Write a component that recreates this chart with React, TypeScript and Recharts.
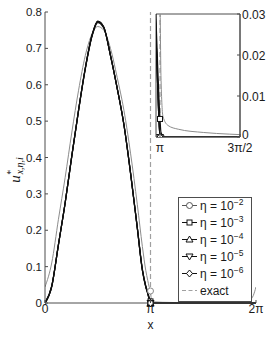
import React from 'react';
import { LineChart, Line, XAxis, YAxis, ReferenceLine, ReferenceArea } from 'recharts';

const PI = Math.PI;

// sample positions along x (rad)
const xs = [0, 0.2, 0.4, 0.6, 0.8, 1.0, 1.2, 1.4, 1.571, 1.75, 1.95, 2.15, 2.35, 2.55, 2.75, 2.9, 3.0, 3.06, 3.1, PI, 3.16, 3.2, 3.3, 3.5, 4.0, 4.5, 5.0, 5.5, 5.9, 6.1, 6.2, 2 * PI];

// eta = 1e-2 (grey, smeared)
const eta2 = [0.044, 0.11, 0.23, 0.345, 0.47, 0.585, 0.68, 0.74, 0.76, 0.75, 0.7, 0.62, 0.53, 0.41, 0.27, 0.155, 0.09, 0.062, 0.045, 0.033, 0.015, 0.005, 0.0028, 0.0019, 0.0011, 0.0007, 0.0005, 0.0006, 0.002, 0.008, 0.02, 0.044];
const eta3 = [0.001, 0.047, 0.161, 0.276, 0.405, 0.529, 0.643, 0.733, 0.771, 0.756, 0.681, 0.591, 0.491, 0.357, 0.207, 0.093, 0.048, 0.03, 0.016, 0.0044, 0.0012, 0.0003, 0, 0, 0, 0, 0, 0, 0, 0, 0, 0.001];
const eta4 = [0, 0.045, 0.16, 0.275, 0.405, 0.53, 0.645, 0.735, 0.773, 0.758, 0.68, 0.59, 0.49, 0.355, 0.205, 0.09, 0.045, 0.026, 0.011, 0, 0, 0, 0, 0, 0, 0, 0, 0, 0, 0, 0, 0];
const eta5 = [0, 0.045, 0.16, 0.275, 0.406, 0.531, 0.646, 0.736, 0.774, 0.758, 0.68, 0.59, 0.49, 0.355, 0.205, 0.09, 0.045, 0.026, 0.011, 0, 0, 0, 0, 0, 0, 0, 0, 0, 0, 0, 0, 0];
const eta6 = [0, 0.045, 0.16, 0.275, 0.406, 0.531, 0.646, 0.736, 0.775, 0.759, 0.681, 0.59, 0.49, 0.355, 0.205, 0.09, 0.045, 0.026, 0.011, 0, 0, 0, 0, 0, 0, 0, 0, 0, 0, 0, 0, 0];

const seriesKeys = ['eta2', 'eta3', 'eta4', 'eta5', 'eta6'];
const legendExponents = ['\u22122', '\u22123', '\u22124', '\u22125', '\u22126'];

const mainXTicks = [0, PI, 2 * PI];
const mainXTickLabels = ['0', '\u03c0', '2\u03c0'];
const mainYTicks = [0, 0.1, 0.2, 0.3, 0.4, 0.5, 0.6, 0.7, 0.8];
const insetXTicks = [PI, 1.5 * PI];
const insetXTickLabels = ['\u03c0', '3\u03c0/2'];
const insetYTicks = [0, 0.01, 0.02, 0.03];

const rows = xs.map((x, i) => ({ x, eta2: eta2[i], eta3: eta3[i], eta4: eta4[i], eta5: eta5[i], eta6: eta6[i] }));

const AXIS = '#4d4d4d';
const TXT = '#1a1a1a';
const FONT = '"Liberation Sans", Arial, Helvetica, sans-serif';
const EXACT = '#a0a0a0';

const styles: Record<string, { color: string; legend: string; marker: string; width: number }> = {
  eta2: { color: '#8c8c8c', legend: '#555', marker: 'circle', width: 1 },
  eta3: { color: '#111', legend: '#111', marker: 'square', width: 1.2 },
  eta4: { color: '#111', legend: '#111', marker: 'up', width: 1.2 },
  eta5: { color: '#111', legend: '#111', marker: 'down', width: 1.2 },
  eta6: { color: '#111', legend: '#111', marker: 'diamond', width: 1.2 },
};

function Marker({ kind, cx, cy, color }: { kind: string; cx: number; cy: number; color: string }) {
  const common = { fill: 'white', stroke: color, strokeWidth: 1 };
  if (kind === 'circle') return <circle cx={cx} cy={cy} r={3} {...common} />;
  if (kind === 'square') return <rect x={cx - 2.5} y={cy - 2.5} width={5} height={5} {...common} />;
  if (kind === 'up') return <polygon points={`${cx},${cy - 3.5} ${cx - 3.5},${cy + 2.5} ${cx + 3.5},${cy + 2.5}`} {...common} />;
  if (kind === 'down') return <polygon points={`${cx},${cy + 3.5} ${cx - 3.5},${cy - 2.5} ${cx + 3.5},${cy - 2.5}`} {...common} />;
  return <polygon points={`${cx},${cy - 3.5} ${cx + 3},${cy} ${cx},${cy + 3.5} ${cx - 3},${cy}`} {...common} />;
}

// markers only at x = pi
const dotFor = (key: string) => (p: any) => {
  const s = styles[key];
  if (Math.abs(p.payload.x - PI) > 1e-6 || p.cy == null) return <g key={`n${key}${p.index}`} />;
  return <Marker key={`m${key}${p.index}`} kind={s.marker} cx={p.cx} cy={p.cy} color={s.color} />;
};

const labelFor = (labels: string[], ticks: number[], v: number) => {
  let best = 0;
  ticks.forEach((t, i) => {
    if (Math.abs(t - v) < Math.abs(ticks[best] - v)) best = i;
  });
  return labels[best];
};

const LeftTick = (p: any) => (
  <g>
    <line x1={p.x} x2={p.x + 3} y1={p.y} y2={p.y} stroke={AXIS} />
    <text x={p.x - 3} y={p.y} dy={4} textAnchor="end" fontSize={11.5} fontFamily={FONT} fill={TXT}>
      {String(p.payload.value)}
    </text>
  </g>
);

const BottomTick = (labels: string[], ticks: number[], dy: number) => (p: any) => (
  <g>
    <line x1={p.x} x2={p.x} y1={p.y} y2={p.y - 3} stroke={AXIS} />
    <text x={p.x} y={p.y + dy} textAnchor="middle" fontSize={12} fontFamily={FONT} fill={TXT}>
      {labelFor(labels, ticks, Number(p.payload.value))}
    </text>
  </g>
);

const RightTick = (p: any) => (
  <g>
    <line x1={p.x - 3} x2={p.x} y1={p.y} y2={p.y} stroke={AXIS} />
    <text x={p.x + 2} y={p.y} dy={p.payload.value === 0 ? 2 : 5} textAnchor="start" fontSize={12} fontFamily={FONT} fill={TXT}>
      {String(p.payload.value)}
    </text>
  </g>
);

export default function App() {
  const lines = seriesKeys.map((k) => (
    <Line
      key={k}
      dataKey={k}
      type="monotone"
      stroke={styles[k].color}
      strokeWidth={styles[k].width}
      dot={dotFor(k)}
      activeDot={false}
      isAnimationActive={false}
    />
  ));

  return (
    <div style={{ position: 'absolute', left: 0, top: 0, width: 266, height: 341, background: 'white' }}>
      <LineChart width={266} height={341} data={rows} margin={{ top: 12, right: 10, left: 5, bottom: 8 }}>
        <XAxis
          type="number"
          dataKey="x"
          domain={[0, 2 * PI]}
          ticks={mainXTicks}
          interval={0}
          allowDataOverflow
          stroke={AXIS}
          tickSize={0}
          tickMargin={0}
          tickLine={false}
          height={30}
          tick={BottomTick(mainXTickLabels, mainXTicks, 10)}
          label={{ value: 'x', position: 'insideBottom', offset: 4, fontSize: 12, fontFamily: FONT, fill: TXT }}
        />
        <YAxis
          type="number"
          domain={[0, 0.8]}
          ticks={mainYTicks}
          interval={0}
          width={40}
          stroke={AXIS}
          tickSize={0}
          tickMargin={0}
          tickLine={false}
          tick={LeftTick}
        />
        <ReferenceLine x={PI} stroke={EXACT} strokeDasharray="5 3" strokeWidth={1.2} />
        {lines}
      </LineChart>

      <div style={{ position: 'absolute', left: 150, top: 0 }}>
        <LineChart width={116} height={160} data={rows} margin={{ top: 14, right: 0, left: 6, bottom: 3 }}>
          <XAxis
            type="number"
            dataKey="x"
            domain={[3.063, 1.5 * PI]}
            ticks={insetXTicks}
            interval={0}
            allowDataOverflow
            stroke={AXIS}
            tickSize={0}
            tickMargin={0}
            tickLine={false}
            height={20}
            tick={BottomTick(insetXTickLabels, insetXTicks, 15)}
          />
          <YAxis
            type="number"
            orientation="right"
            domain={[0, 0.03]}
            ticks={insetYTicks}
            interval={0}
            allowDataOverflow
            width={26}
            stroke={AXIS}
            tickSize={0}
            tickMargin={0}
            tickLine={false}
            tick={RightTick}
          />
          <ReferenceArea x1={3.063} x2={1.5 * PI} y1={0} y2={0.03} fill="white" fillOpacity={0} stroke={AXIS} />
          <ReferenceLine x={PI} stroke={EXACT} strokeDasharray="5 3" strokeWidth={1.2} />
          {lines}
        </LineChart>
      </div>

      <svg width={266} height={341} style={{ position: 'absolute', left: 0, top: 0, pointerEvents: 'none' }}>
        <text
          transform="translate(20,170) rotate(-90)"
          textAnchor="middle"
          fontFamily='"Liberation Serif", "DejaVu Serif", serif'
          fontStyle="italic"
          fontSize={15}
          fill={TXT}
        >
          u
          <tspan dy={-6} fontSize={10}>*</tspan>
          <tspan dx={-4} dy={9} fontSize={10}>x,η,i</tspan>
        </text>

        <rect x={178.5} y={197.5} width={73} height={104} fill="white" stroke={AXIS} />
        {seriesKeys.map((k, i) => {
          const y = 205.5 + i * 17;
          const s = styles[k];
          return (
            <g key={k}>
              <line x1={182} x2={197} y1={y} y2={y} stroke={s.legend} />
              <Marker kind={s.marker} cx={189.5} cy={y} color={s.legend} />
              <text x={200} y={y + 4} fontSize={12} fontFamily={FONT} fill={TXT}>
                {'\u03b7 = 10'}
                <tspan dy={-5} fontSize={8.5}>{legendExponents[i]}</tspan>
              </text>
            </g>
          );
        })}
        <line x1={182} x2={197} y1={290.5} y2={290.5} stroke={EXACT} strokeDasharray="4 2.5" />
        <text x={200} y={294.5} fontSize={12} fontFamily={FONT} fill={TXT}>exact</text>
      </svg>
    </div>
  );
}
